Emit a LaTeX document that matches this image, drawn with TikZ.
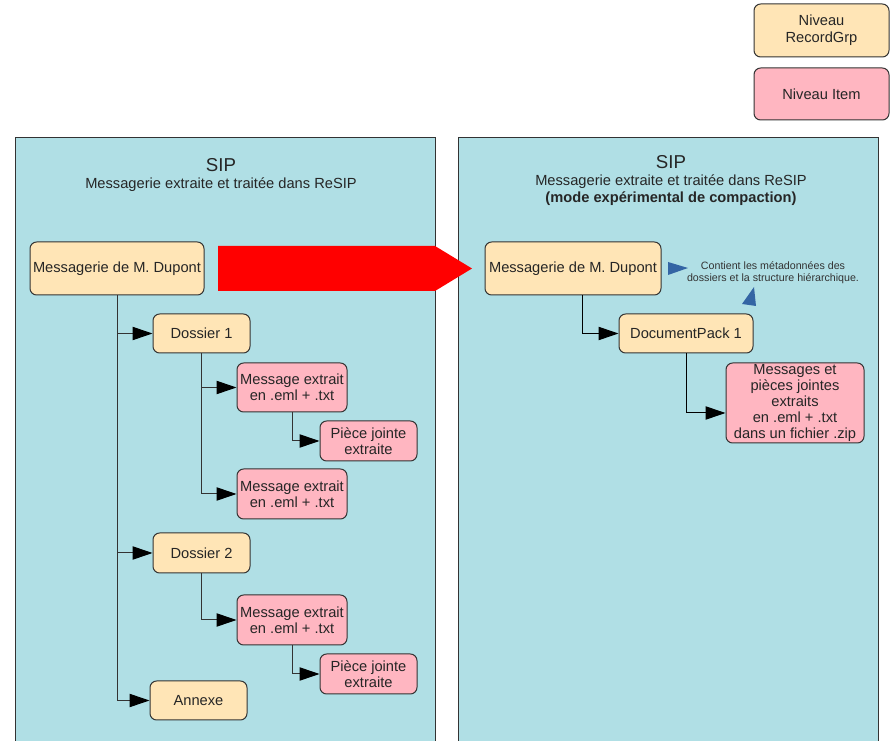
\documentclass[tikz,border=0pt]{standalone}
\usepackage{fontspec}
\setmainfont{Liberation Sans}
\usetikzlibrary{arrows.meta}
\definecolor{sipblue}{RGB}{176,223,229}
\definecolor{grpfill}{RGB}{255,229,182}
\definecolor{itemfill}{RGB}{255,182,193}
\definecolor{edgegray}{RGB}{51,51,51}
\definecolor{noteblue}{RGB}{52,101,164}

\begin{document}
\begin{tikzpicture}[x=0.75pt,y=0.75pt,yscale=-1,xscale=1,
  box/.style={draw=edgegray,line width=0.75pt,rounded corners=5pt,align=center,inner sep=0pt,text=black!85,font=\fontsize{11}{12}\selectfont},
  grp/.style={box,fill=grpfill},
  item/.style={box,fill=itemfill},
  wh/.style 2 args={minimum width=#1,minimum height=#2},
  flow/.style={draw=edgegray,line width=0.75pt,-{Triangle[length=15pt,width=10pt,color=black]}},
  title/.style={align=center,inner sep=0pt,text=black!85,font=\fontsize{11}{12.75}\selectfont},
  note/.style={align=center,inner sep=0pt,text=black!80,font=\fontsize{8}{9}\selectfont}]

\useasboundingbox (0,0) rectangle (890,741);

\fill [sipblue] (15,138) rectangle (435,741);
\draw [edgegray,line width=0.75pt] (15,741) -- (15,138) -- (435,138) -- (435,741);
\fill [sipblue] (458,138) rectangle (878,741);
\draw [edgegray,line width=0.75pt] (458,741) -- (458,138) -- (878,138) -- (878,741);

\node [title] (sipL) at (221,175) {{\fontsize{14}{17}\selectfont SIP}\\Messagerie extraite et traitée dans ReSIP};
\node [title] (sipR) at (671,180.5) {{\fontsize{14}{17}\selectfont SIP}\\Messagerie extraite et traitée dans ReSIP\\\textbf{(mode expérimental de compaction)}};

\fill [red] (218,246) -- (435,246) -- (472,268.5) -- (435,291) -- (218,291) -- cycle;

\node [grp,wh={130.5pt}{39.75pt}] (msgL) at (117,268.5) {Messagerie de M. Dupont};
\node [grp,wh={72.75pt}{29.25pt}] (dos1) at (201.5,333.5) {Dossier 1};
\node [item,wh={82.5pt}{36.75pt}] (me1) at (292,387.5) {Message extrait\\en .eml + .txt};
\node [item,wh={72.75pt}{30pt}] (pj1) at (368.5,441) {Pièce jointe\\extraite};
\node [item,wh={82.5pt}{37.5pt}] (me2) at (292,494) {Message extrait\\en .eml + .txt};
\node [grp,wh={72.75pt}{30pt}] (dos2) at (201.5,553) {Dossier 2};
\node [item,wh={82.5pt}{37.5pt}] (me3) at (292,620) {Message extrait\\en .eml + .txt};
\node [item,wh={72.75pt}{30pt}] (pj2) at (368.5,674) {Pièce jointe\\extraite};
\node [grp,wh={72.75pt}{29.25pt}] (annexe) at (198.5,700.5) {Annexe};

\draw [flow] (msgL.south) |- (dos1);
\draw [flow] (msgL.south) |- (dos2);
\draw [flow] (msgL.south) |- (annexe);
\draw [flow] (dos1.south) |- (me1);
\draw [flow] (dos1.south) |- (me2);
\draw [flow] (me1.south) |- (pj1);
\draw [flow] (dos2.south) |- (me3);
\draw [flow] (me3.south) |- (pj2);

\node [grp,wh={132pt}{39.75pt}] (msgR) at (573,268.5) {Messagerie de M. Dupont};
\node [grp,wh={100.5pt}{29.25pt}] (pack1) at (686,333.5) {DocumentPack 1};
\node [item,wh={103.5pt}{60pt}] (zipItem) at (795,403) {Messages et\\pièces jointes\\extraits\\en .eml + .txt\\dans un fichier .zip};

\draw [flow,draw=black] ([xshift=6.75pt]msgR.south) |- (pack1);
\draw [flow,draw=black] (pack1.south) |- ([yshift=7.5pt]zipItem.west);

\node [note] (metaNote) at (773,273) {Contient les métadonnées des\\dossiers et la structure hiérarchique.};
\fill [noteblue] (668,262) -- (688,268) -- (668,275) -- cycle;
\fill [noteblue] (754,287) -- (756,306) -- (742,304) -- cycle;

\node [grp,wh={101.25pt}{39.75pt},font=\fontsize{11}{13}\selectfont] (legGrp) at (821.5,30.5) {Niveau\\RecordGrp};
\node [item,wh={101.25pt}{39pt}] (legItem) at (821.5,94) {Niveau Item};

\end{tikzpicture}
\end{document}
